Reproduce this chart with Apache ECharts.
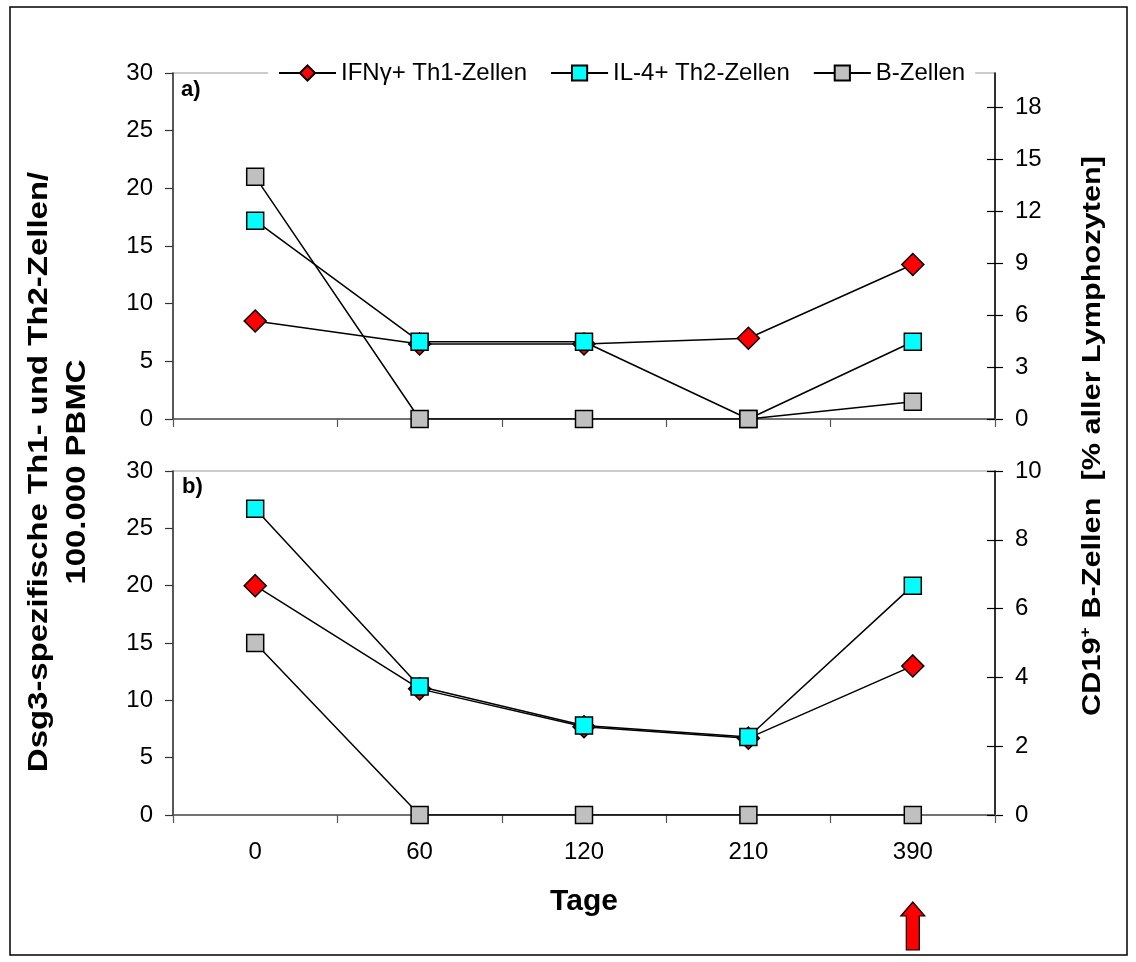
<!DOCTYPE html>
<html>
<head>
<meta charset="utf-8">
<script src="https://cdn.jsdelivr.net/npm/echarts@6/dist/echarts.min.js"></script>
<style>
html,body{margin:0;padding:0;background:#fff;}
#chart{width:1136px;height:962px;}
</style>
</head>
<body>
<div id="chart"></div>
<script>
// ---- data ----
const categories = ['0', '60', '120', '210', '390'];
const seriesNames = ['IFN\u03b3+ Th1-Zellen', 'IL-4+ Th2-Zellen', 'B-Zellen'];
// panel a)
const th1A = [8.5, 6.5, 6.5, 7.0, 13.4];
const th2A = [17.2, 6.7, 6.7, 0, 6.7];
const bA = [14, 0, 0, 0, 1];
// panel b)
const th1B = [20, 11.0, 7.7, 6.7, 13.0];
const th2B = [26.7, 11.2, 7.8, 6.8, 20.0];
const bB = [5, 0, 0, 0, 0];
// tick labels
const leftTicks = [0, 5, 10, 15, 20, 25, 30];
const rightTicksA = [0, 3, 6, 9, 12, 15, 18];
const rightTicksB = [0, 2, 4, 6, 8, 10];

const FONT = '"Liberation Sans", Arial, sans-serif';
const chart = echarts.init(document.getElementById('chart'), null, {renderer: 'canvas'});

const colors = ['#ff0000', '#00ffff', '#c0c0c0'];
const symbols = ['diamond', 'rect', 'rect'];
const sizes = [22, 17, 17];

function mkSeries(idx, data, xi, yi) {
  return {
    type: 'line', name: seriesNames[idx], data: data,
    xAxisIndex: xi, yAxisIndex: yi,
    symbol: symbols[idx], symbolSize: sizes[idx],
    itemStyle: {color: colors[idx], borderColor: '#000', borderWidth: 1.5},
    lineStyle: {color: '#000', width: 1.5},
    emphasis: {disabled: true}
  };
}

const gridA = {left: 173, top: 73, width: 822, height: 346};
const gridB = {left: 173, top: 471, width: 822, height: 344};

function leftAxis(g, ticks) {
  return {
    type: 'value', gridIndex: g, position: 'left',
    min: ticks[0], max: ticks[ticks.length - 1], interval: ticks[1] - ticks[0],
    axisLine: {show: true, lineStyle: {color: '#333', width: 1.5}},
    axisTick: {show: true, length: 8, lineStyle: {color: '#333', width: 1.2}},
    splitLine: {show: false},
    axisLabel: {fontSize: 24, color: '#000', margin: 20, fontFamily: FONT}
  };
}
function rightAxis(g, ticks, max, inside) {
  return {
    type: 'value', gridIndex: g, position: 'right',
    min: 0, max: max,
    axisLine: {show: !inside, lineStyle: {color: '#000', width: 1.5}},
    axisTick: {show: true, inside: !!inside, length: 8, customValues: ticks, lineStyle: {color: '#000', width: 1.2}},
    splitLine: {show: false},
    axisLabel: {show: !inside, customValues: ticks, fontSize: 24, color: '#000', margin: 20, fontFamily: FONT}
  };
}
function xAxis(g, showLabel) {
  const a = {
    type: 'category', gridIndex: g, data: categories,
    axisLine: {show: true, lineStyle: {color: '#555', width: 1.5}},
    axisTick: {show: true, length: 8, lineStyle: {color: '#555', width: 1.2}},
    axisLabel: {show: showLabel, fontSize: 24, color: '#000', margin: 25, fontFamily: FONT},
    splitLine: {show: false}
  };
  if (showLabel) {
    a.name = 'Tage';
    a.nameLocation = 'middle';
    a.nameGap = 72;
    a.nameTextStyle = {fontSize: 30, fontWeight: 'bold', color: '#000', fontFamily: FONT};
  }
  return a;
}

const option = {
  animation: false,
  backgroundColor: '#ffffff',
  grid: [
    Object.assign({show: true, borderColor: '#999', borderWidth: 1.2, backgroundColor: 'transparent'}, gridA),
    Object.assign({show: true, borderColor: '#999', borderWidth: 1.2, backgroundColor: 'transparent'}, gridB)
  ],
  legend: {
    data: seriesNames,
    left: 268, top: 58,
    padding: [3, 10, 3, 10],
    backgroundColor: '#ffffff',
    itemWidth: 57, itemHeight: 19, itemGap: 23,
    textStyle: {fontSize: 24, color: '#000', fontFamily: FONT},
    selectedMode: false
  },
  xAxis: [xAxis(0, false), xAxis(1, true)],
  yAxis: [
    leftAxis(0, leftTicks),
    rightAxis(0, rightTicksA, 20, false),
    leftAxis(1, leftTicks),
    rightAxis(1, rightTicksB, 10, false),
    rightAxis(0, rightTicksA, 20, true),
    rightAxis(1, rightTicksB, 10, true)
  ],
  series: [
    mkSeries(0, th1A, 0, 0),
    mkSeries(1, th2A, 0, 0),
    mkSeries(2, bA, 0, 1),
    mkSeries(0, th1B, 1, 2),
    mkSeries(1, th2B, 1, 2),
    mkSeries(2, bB, 1, 3)
  ]
};
chart.setOption(option);

// annotations
const ax = chart.convertToPixel({xAxisIndex: 1}, categories[4]);
const arrowTop = 902, arrowHeadBase = 916, arrowBottom = 950;
const graphics = [
  {type: 'rect', silent: true, z: 0,
   shape: {x: 10, y: 7, width: 1117, height: 948},
   style: {fill: 'none', stroke: '#000', lineWidth: 1.5}},
  {type: 'text', x: 181, y: 90, silent: true,
   style: {text: 'a)', fontSize: 22, fontWeight: 'bold', fontFamily: FONT, fill: '#000', align: 'left', verticalAlign: 'middle'}},
  {type: 'text', x: 182, y: 487, silent: true,
   style: {text: 'b)', fontSize: 22, fontWeight: 'bold', fontFamily: FONT, fill: '#000', align: 'left', verticalAlign: 'middle'}},
  {type: 'text', x: 59, y: 472, rotation: Math.PI / 2, scaleX: 1.22, silent: true,
   style: {text: 'Dsg3-spezifische Th1- und Th2-Zellen/\n100.000 PBMC', fontSize: 27, fontWeight: 'bold',
           fontFamily: FONT, fill: '#000', align: 'center', verticalAlign: 'middle', lineHeight: 38}},
  {type: 'text', x: 1093, y: 436, rotation: Math.PI / 2, scaleX: 1.18, silent: true,
   style: {text: '{a|CD19}{s|+}{a| B-Zellen  [% aller Lymphozyten]}',
           align: 'center', verticalAlign: 'middle', fill: '#000',
           rich: {
             a: {fontSize: 26, fontWeight: 'bold', fontFamily: FONT, fill: '#000', lineHeight: 30},
             s: {fontSize: 15, fontWeight: 'bold', fontFamily: FONT, fill: '#000', verticalAlign: 'top', lineHeight: 30, padding: [0, 0, 10, 0]}
           }}},
  {type: 'polygon', silent: true,
   shape: {points: [
     [ax, arrowTop], [ax + 12, arrowHeadBase], [ax + 6.5, arrowHeadBase], [ax + 6.5, arrowBottom],
     [ax - 6.5, arrowBottom], [ax - 6.5, arrowHeadBase], [ax - 12, arrowHeadBase]
   ]},
   style: {fill: '#ff0000', stroke: '#000', lineWidth: 1.2}}
];
chart.setOption({graphic: graphics});
</script>
</body>
</html>
